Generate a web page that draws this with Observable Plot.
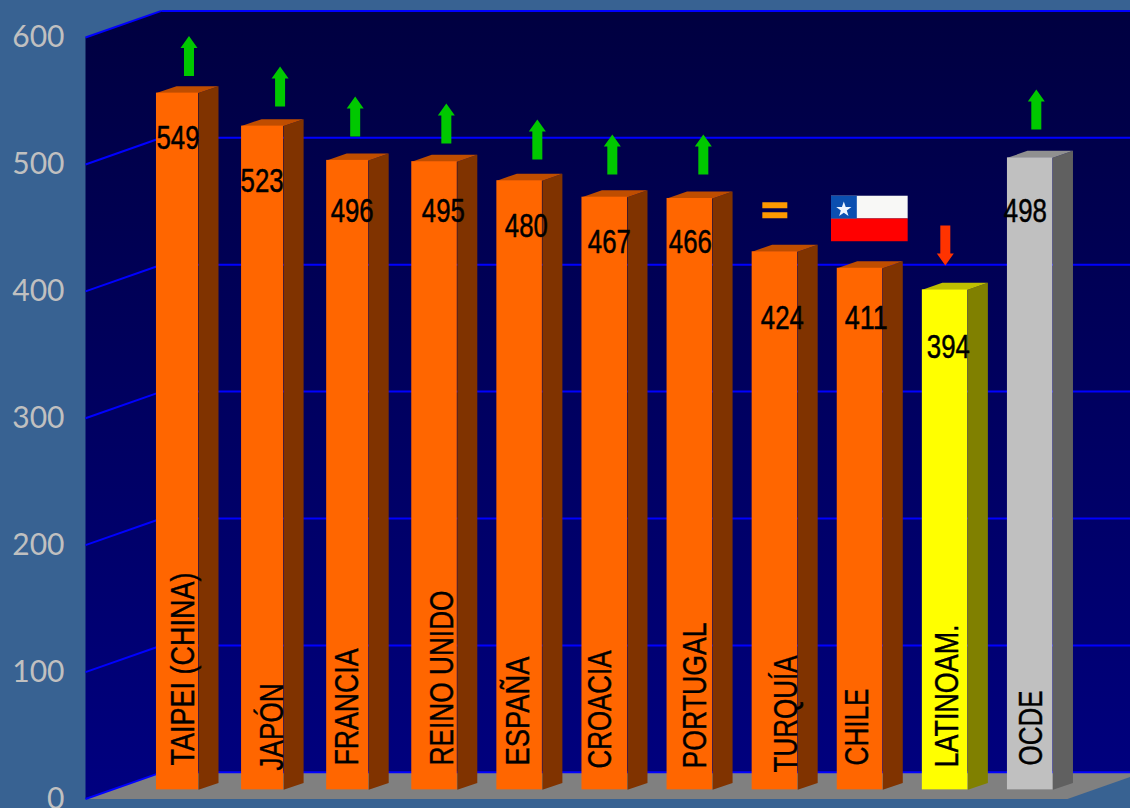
<!DOCTYPE html>
<html>
<head>
<meta charset="utf-8">
<script src="https://cdn.jsdelivr.net/npm/d3@7"></script>
<script src="https://cdn.jsdelivr.net/npm/@observablehq/plot@0.6"></script>
<style>
html,body{margin:0;padding:0;background:#386292;overflow:hidden}
svg{display:block}
</style>
</head>
<body>
<div id="chart"></div>
<script>
// ---- data ----
const countries = ["TAIPEI (CHINA)","JAPÓN","FRANCIA","REINO UNIDO","ESPAÑA","CROACIA","PORTUGAL","TURQUÍA","CHILE","LATINOAM.","OCDE"];
const scores    = [549,523,496,495,480,467,466,424,411,394,498];
const trends    = ["up","up","up","up","up","up","up","equal","flag","down","up"];
const groups    = ["country","country","country","country","country","country","country","country","country","region","oecd"];
const yTicks    = [0,100,200,300,400,500,600];

// ---- layout (not data) ----
const palette = {
  country:{front:"#ff6600",top:"#bf4d00",side:"#803300"},
  region:{front:"#ffff00",top:"#bfbf00",side:"#808000"},
  oecd:{front:"#c0c0c0",top:"#909090",side:"#606060"}
};
const WALL_L=-0.834, WALL_DX=0.893, WALL_DY=21, FLOOR_R=10.705, FAR=12;
const BAR_W=0.535, BAR_W_NARROW=0.494, BAR_DX=0.235, BAR_DY=5.5, BAR_BASE=7.2;
// hand-placed annotation offsets, in pixels from each bar
const valueOffset=[[0.5,45.4],[-0.5,55.3],[4.5,51.1],[8.8,49.8],[6.7,45.7],[4.6,45.2],[0.5,44],[7.4,66.7],[6.3,50.2],[3.2,57.6],[-4.9,53.6]];
const nameOffset=[[6,-24.4],[10,-19.4],[0,-24.4],[8.3,-24.4],[-0.8,-24.4],[-3.9,-21.4],[6,-21.4],[11.9,-17.4],[-2.2,-24.4],[2.7,-22.4],[1.6,-24.4]];
const trendOffset=[[11.5,-17.1],[17.5,-19.7],[7.5,-23.9],[11.8,-18.2],[17.7,-21.3],[7.6,-22.8],[13.5,-24],[-0.1,-41.4],[9.3,-49.8],[0.2,-64.4],[6.1,-28.4]];
// drawn widths of the condensed labels
const valueLength=[43,43,43,43,43,43,43,43,43,43,43];
const nameLength=[193,87,117,175,109,118,146,117,77,143,75];

const bars = countries.map((name,i)=>{
  const w = i<3?BAR_W_NARROW:BAR_W;
  return {i,name,value:scores[i],trend:trends[i],x1:i,x2:i+w,cx:i+w/2,y0:BAR_BASE,y1:BAR_BASE+scores[i],...palette[groups[i]]};
});
const poly=(id,fill,pts)=>pts.map(([x,y])=>({id,fill,x,y}));
const sideFaces = bars.flatMap(b=>poly("s"+b.i,b.side,[[b.x2,b.y0],[b.x2+BAR_DX,b.y0+BAR_DY],[b.x2+BAR_DX,b.y1+BAR_DY],[b.x2,b.y1]]));
const topFaces  = bars.flatMap(b=>poly("t"+b.i,b.top,[[b.x1,b.y1],[b.x1+BAR_DX,b.y1+BAR_DY],[b.x2+BAR_DX,b.y1+BAR_DY],[b.x2,b.y1]]));
const wall = poly("w","url(#wall)",[[WALL_L,0],[WALL_L,600],[WALL_L+WALL_DX,600+WALL_DY],[FAR,600+WALL_DY],[FAR,WALL_DY],[WALL_L+WALL_DX,WALL_DY]]);
const floor = poly("f","#808080",[[WALL_L,0],[WALL_L+WALL_DX,WALL_DY],[FLOOR_R+WALL_DX,WALL_DY],[FLOOR_R,0]]);

const gradient = () => {
  const d=d3.create("svg:defs");
  const g=d.append("linearGradient").attr("id","wall").attr("x1",0).attr("y1",0).attr("x2",0).attr("y2",1);
  g.append("stop").attr("offset","0%").attr("stop-color","#000040");
  g.append("stop").attr("offset","100%").attr("stop-color","#000080");
  return d.node();
};
const upArrow={draw(c,l){c.moveTo(0,-l);c.lineTo(8.5,-l+12);c.lineTo(5,-l+12);c.lineTo(5,0);c.lineTo(-5,0);c.lineTo(-5,-l+12);c.lineTo(-8.5,-l+12);c.closePath();}};
const equalSign={draw(c){c.rect(-12.5,-8,25,6);c.rect(-12.5,2,25,6);}};
const flagSrc="data:image/svg+xml;utf8,"+encodeURIComponent('<svg xmlns="http://www.w3.org/2000/svg" width="77" height="46" viewBox="0 0 77 46" preserveAspectRatio="none"><rect width="77" height="23" fill="#f8f8f6"/><rect y="23" width="77" height="23" fill="#ff0000"/><rect width="26" height="23" fill="#0b4fb0"/><polygon fill="#eef4ff" points="13,6 14.9,11.6 20.6,11.6 16,15 17.7,20.5 13,17.2 8.3,20.5 10,15 5.4,11.6 11.1,11.6"/></svg>');

const condensed = len => (index,scales,values,dims,ctx,next) => {
  const g=next(index,scales,values,dims,ctx);
  g.querySelectorAll("text").forEach(t=>{t.setAttribute("textLength",len);t.setAttribute("lengthAdjust","spacingAndGlyphs");});
  return g;
};
const face='"Liberation Sans",sans-serif';
const trendMark = b=>{
  const [dx,dy]=trendOffset[b.i];
  const at={x:"cx",y:"y1",dx,dy};
  if(b.trend==="flag") return Plot.image([b],{...at,src:()=>flagSrc,width:77,height:46,preserveAspectRatio:"none"});
  if(b.trend==="equal") return Plot.vector([b],{...at,length:1,anchor:"start",shape:equalSign,fill:"#ff9900",stroke:"none"});
  const down=b.trend==="down";
  return Plot.vector([b],{...at,length:40,anchor:"start",rotate:down?180:0,shape:upArrow,fill:down?"#ff3300":"#00c800",stroke:"none"});
};

const plot = Plot.plot({
  width:1130,height:808,
  marginLeft:85,marginRight:0,marginTop:10,marginBottom:9.5,
  style:{background:"#386292",fontFamily:"Lato, sans-serif"},
  x:{domain:[WALL_L,11.446],axis:null},
  y:{domain:[0,621.3],axis:null},
  color:{type:"identity"},
  marks:[
    gradient,
    Plot.line(wall,{x:"x",y:"y",z:"id",fill:"fill",stroke:"none"}),
    Plot.line(floor,{x:"x",y:"y",z:"id",fill:"fill",stroke:"none"}),
    Plot.link(yTicks,{x1:WALL_L,y1:d=>d,x2:WALL_L+WALL_DX,y2:d=>d+WALL_DY,stroke:"#0000ff",strokeWidth:2}),
    Plot.link(yTicks,{x1:WALL_L+WALL_DX,y1:d=>d+WALL_DY,x2:FAR,y2:d=>d+WALL_DY,stroke:"#0000ff",strokeWidth:2}),
    Plot.axisY(yTicks,{anchor:"left",ticks:yTicks,label:null,tickSize:0,tickPadding:21,fontSize:30,fill:"#c0c0c0"}),
    Plot.line(sideFaces,{x:"x",y:"y",z:"id",fill:"fill",stroke:"none"}),
    Plot.line(topFaces,{x:"x",y:"y",z:"id",fill:"fill",stroke:"none"}),
    Plot.rect(bars,{x1:"x1",x2:"x2",y1:"y0",y2:"y1",fill:"front"}),
    ...bars.map(trendMark),
    ...bars.map(b=>Plot.text([b],{x:"cx",y:"y1",text:"value",dx:valueOffset[b.i][0],dy:valueOffset[b.i][1],fontSize:33,fontFamily:face,fill:"black",stroke:"black",strokeWidth:0.5,paintOrder:"normal",render:condensed(valueLength[b.i])})),
    ...bars.map(b=>Plot.text([b],{x:"cx",y:"y0",text:"name",dx:nameOffset[b.i][0],dy:nameOffset[b.i][1],rotate:-90,textAnchor:"start",lineAnchor:"middle",fontSize:33,fontFamily:face,fill:"black",stroke:"black",strokeWidth:0.4,paintOrder:"normal",render:condensed(nameLength[b.i])}))
  ]
});
document.getElementById("chart").append(plot);
</script>
</body>
</html>
